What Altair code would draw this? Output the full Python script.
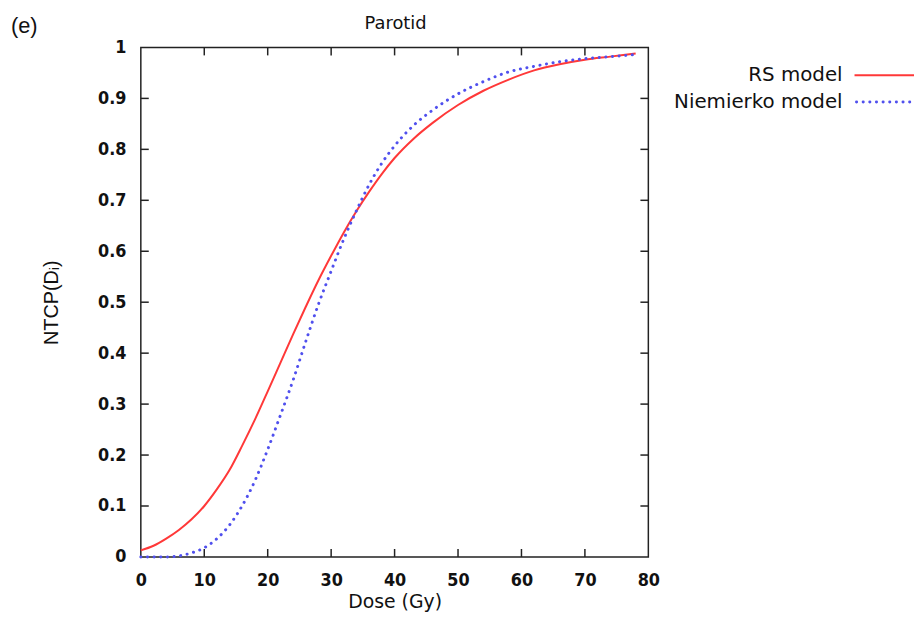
import altair as alt
import pandas as pd

# ---- data ----
series = ["RS model", "Niemierko model"]
colors = ["#ff3838", "#5050ee"]

rs_dose = [0, 2, 4, 6, 8, 10, 12, 14, 16, 18, 20, 22, 24, 26, 28, 30, 32, 34, 36, 38,
           40, 43, 46, 50, 54, 58, 62, 66, 70, 74, 78]
rs_ntcp = [0.013, 0.022, 0.036, 0.053, 0.074, 0.100, 0.133, 0.171, 0.219, 0.270,
           0.325, 0.381, 0.437, 0.491, 0.543, 0.591, 0.637, 0.679, 0.717, 0.752,
           0.783, 0.821, 0.852, 0.887, 0.915, 0.937, 0.955, 0.967, 0.976, 0.982, 0.988]

nm_dose = [0, 4, 6, 8, 10, 12, 14, 16, 18, 20, 22, 24, 26, 28, 30, 32, 34, 36, 38,
           40, 43, 46, 50, 54, 58, 62, 66, 70, 74, 78]
nm_ntcp = [0.0, 0.0, 0.002, 0.008, 0.018, 0.036, 0.063, 0.101, 0.150, 0.211, 0.278,
           0.347, 0.423, 0.496, 0.561, 0.624, 0.680, 0.731, 0.773, 0.807, 0.847,
           0.877, 0.909, 0.933, 0.952, 0.963, 0.972, 0.978, 0.982, 0.986]

x_ticks = [0, 10, 20, 30, 40, 50, 60, 70, 80]
y_ticks = [0, 0.1, 0.2, 0.3, 0.4, 0.5, 0.6, 0.7, 0.8, 0.9, 1]
inner_x = [10, 20, 30, 40, 50, 60, 70]
inner_y = [0.1, 0.2, 0.3, 0.4, 0.5, 0.6, 0.7, 0.8, 0.9]

W, H = 512, 514
TICK = 8
FONT = "DejaVu Sans"

rs_df = pd.DataFrame({"dose": rs_dose, "ntcp": rs_ntcp})
nm_df = pd.DataFrame({"dose": nm_dose, "ntcp": nm_ntcp})

x_scale = alt.Scale(domain=[0, 80], nice=False, zero=False)
y_scale = alt.Scale(domain=[0, 1], nice=False, zero=False)

x_axis = alt.Axis(values=x_ticks, title="Dose (Gy)", tickSize=0, domain=False, grid=False,
                  labelFont="DejaVu Sans Condensed", labelFontWeight="bold", labelFontSize=18,
                  labelColor="#111", labelPadding=15, labelFlush=False,
                  titleFont=FONT, titleFontSize=19, titleFontWeight="normal",
                  titleColor="#111", titlePadding=3)
y_axis = alt.Axis(values=y_ticks, format="~g", title="NTCP(Dᵢ)", tickSize=0, domain=False,
                  grid=False, labelFont="DejaVu Sans Condensed", labelFontWeight="bold",
                  labelFontSize=18, labelColor="#111", labelPadding=15, labelFlush=False,
                  titleFont="Liberation Sans", titleFontSize=20, titleFontWeight="normal",
                  titleColor="#111", titlePadding=36)

X = alt.X("dose:Q", scale=x_scale, axis=x_axis)
Y = alt.Y("ntcp:Q", scale=y_scale, axis=y_axis)

rs_line = alt.Chart(rs_df).mark_line(
    color=colors[0], strokeWidth=2, interpolate="monotone"
).encode(x=X, y=Y)

nm_line = alt.Chart(nm_df).mark_line(
    color=colors[1], strokeWidth=3, strokeDash=[0.1, 6.6], strokeCap="round",
    interpolate="monotone"
).encode(x=X, y=Y)

# inward ticks on all four sides
xt = pd.DataFrame({"dose": inner_x})
yt = pd.DataFrame({"ntcp": inner_y})
tick_style = dict(color="#222", strokeWidth=1.5)
bottom_t = alt.Chart(xt).mark_rule(**tick_style).encode(x=X, y=alt.value(H), y2=alt.value(H - TICK))
top_t = alt.Chart(xt).mark_rule(**tick_style).encode(x=X, y=alt.value(0), y2=alt.value(TICK))
left_t = alt.Chart(yt).mark_rule(**tick_style).encode(y=Y, x=alt.value(0), x2=alt.value(TICK))
right_t = alt.Chart(yt).mark_rule(**tick_style).encode(y=Y, x=alt.value(W), x2=alt.value(W - TICK))

# gnuplot-style key (label to the left of its sample line)
leg_rs_txt = alt.Chart(pd.DataFrame({"s": [series[0]]})).mark_text(
    align="right", baseline="middle", font=FONT, fontSize=20, color="#111"
).encode(text="s:N", x=alt.value(708), y=alt.value(28))
leg_nm_txt = alt.Chart(pd.DataFrame({"s": [series[1]]})).mark_text(
    align="right", baseline="middle", font=FONT, fontSize=20, color="#111"
).encode(text="s:N", x=alt.value(708), y=alt.value(55))
leg_rs_line = alt.Chart(pd.DataFrame({"s": [series[0]]})).mark_rule(
    color=colors[0], strokeWidth=2
).encode(x=alt.value(720), x2=alt.value(780), y=alt.value(28))
leg_nm_line = alt.Chart(pd.DataFrame({"s": [series[1]]})).mark_rule(
    color=colors[1], strokeWidth=3, strokeDash=[0.1, 6.6], strokeCap="round"
).encode(x=alt.value(722), x2=alt.value(780), y=alt.value(55))

# panel tag and title
tag = alt.Chart(pd.DataFrame({"s": ["(e)"]})).mark_text(
    align="left", baseline="alphabetic", font="Liberation Sans", fontSize=22, color="#111"
).encode(text="s:N", x=alt.value(-131), y=alt.value(-15))
title = alt.Chart(pd.DataFrame({"s": ["Parotid"]})).mark_text(
    align="center", baseline="alphabetic", font=FONT, fontSize=18, color="#111"
).encode(text="s:N", x=alt.value(257), y=alt.value(-19))

chart = alt.layer(
    bottom_t, top_t, left_t, right_t, rs_line, nm_line,
    leg_rs_txt, leg_nm_txt, leg_rs_line, leg_nm_line, tag, title
).properties(
    width=W, height=H,
    autosize=alt.AutoSizeParams(type="none"),
    padding={"left": 134, "top": 37, "right": 268, "bottom": 83},
    background="white",
).configure_view(stroke="#222", strokeWidth=1.5)

chart.save("out.html", embed_options={"renderer": "svg", "actions": False})
